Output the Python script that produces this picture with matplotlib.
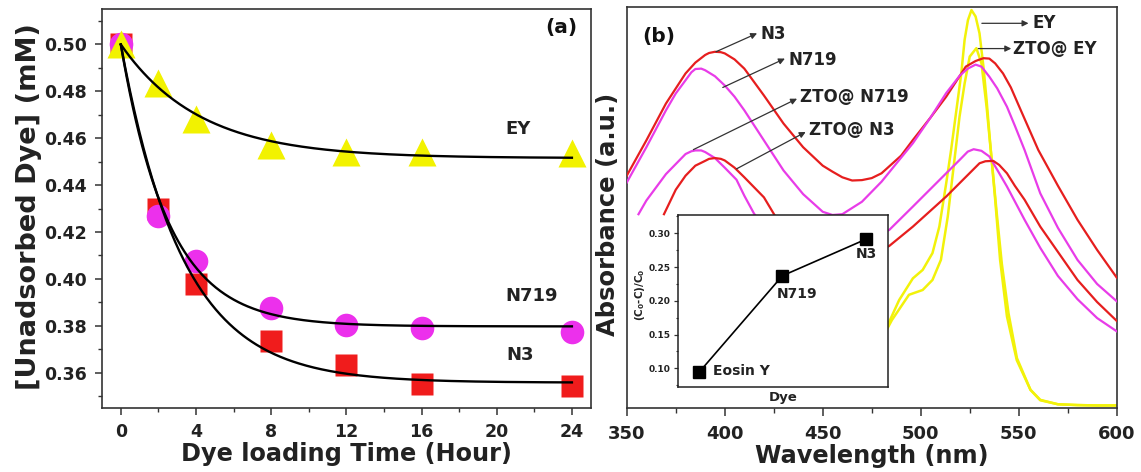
import matplotlib
matplotlib.use('Agg')
import matplotlib.pyplot as plt
import numpy as np
from matplotlib.ticker import MultipleLocator, FormatStrFormatter

plt.rcParams['font.family'] = ['DejaVu Sans']
plt.rcParams['font.weight'] = 'bold'
plt.rcParams['mathtext.default'] = 'bf'

# ---------------- data: panel (a) ----------------
time_h = [0, 2, 4, 8, 12, 16, 24]
ey_conc = [0.500, 0.4834, 0.468, 0.4571, 0.4542, 0.4542, 0.4535]
n719_conc = [0.500, 0.4267, 0.4076, 0.3876, 0.3805, 0.3792, 0.3774]
n3_conc = [0.500, 0.4296, 0.3977, 0.3735, 0.3633, 0.3550, 0.3543]
# exponential fit parameters (start, plateau, time constant in hours)
fit_start = 0.500
fit_plateau = {'EY': 0.4515, 'N719': 0.3797, 'N3': 0.3557}
fit_tau = {'EY': 4.2, 'N719': 2.55, 'N3': 3.3}

# ---------------- data: panel (b) ----------------
wl_n3 = [350, 360, 370, 380, 385, 390, 392, 395, 398, 400, 405, 410, 420, 430, 440, 450, 455, 460, 465,
         470, 475, 480, 490, 496, 505, 513, 523, 528, 532, 535, 538, 542, 546, 551, 560, 570, 580,
         590, 600]
abs_n3 = [0.580, 0.668, 0.760, 0.835, 0.862, 0.881, 0.886, 0.889, 0.888, 0.885, 0.870, 0.847, 0.780,
          0.710, 0.651, 0.605, 0.590, 0.576, 0.568, 0.569, 0.574, 0.586, 0.630, 0.669, 0.725, 0.777,
          0.852, 0.866, 0.873, 0.872, 0.860, 0.835, 0.800, 0.744, 0.644, 0.555, 0.470, 0.395, 0.326]

wl_n719 = [350, 360, 370, 375, 380, 383, 385, 388, 390, 395, 400, 405, 410, 420, 430, 440, 450, 455,
           460, 470, 480, 490, 496, 505, 513, 520, 524, 528, 531, 535, 539, 544, 548, 553, 561, 570,
           580, 590, 600]
abs_n719 = [0.563, 0.651, 0.743, 0.785, 0.818, 0.838, 0.846, 0.847, 0.843, 0.828, 0.805, 0.777, 0.743,
            0.668, 0.593, 0.534, 0.490, 0.482, 0.484, 0.515, 0.565, 0.625, 0.661, 0.725, 0.786, 0.830,
            0.847, 0.857, 0.852, 0.827, 0.798, 0.752, 0.705, 0.644, 0.536, 0.450, 0.370, 0.310, 0.267]

wl_zto_n719 = [356, 360, 370, 380, 383, 385, 388, 390, 395, 400, 406, 410, 415, 420, 430, 440, 455, 470,
               478, 484, 496, 513, 520, 524, 527, 531, 535, 539, 544, 553, 561, 570, 580, 590, 600]
abs_zto_n719 = [0.484, 0.518, 0.584, 0.634, 0.641, 0.643, 0.643, 0.639, 0.624, 0.600, 0.570, 0.530,
                0.485, 0.455, 0.405, 0.375, 0.355, 0.395, 0.430, 0.445, 0.503, 0.586, 0.620, 0.640,
                0.646, 0.642, 0.628, 0.595, 0.553, 0.470, 0.400, 0.330, 0.272, 0.225, 0.192]

wl_zto_n3 = [369, 375, 380, 385, 390, 392, 395, 398, 400, 405, 410, 420, 426, 435, 445, 455, 465, 472,
             478, 484, 496, 513, 530, 533, 537, 540, 544, 548, 553, 561, 570, 580, 590, 600]
abs_zto_n3 = [0.484, 0.545, 0.580, 0.605, 0.617, 0.622, 0.624, 0.622, 0.618, 0.600, 0.576, 0.526,
              0.477, 0.440, 0.400, 0.372, 0.365, 0.375, 0.390, 0.405, 0.453, 0.528, 0.611, 0.616,
              0.617, 0.607, 0.586, 0.555, 0.520, 0.453, 0.390, 0.320, 0.265, 0.218]

wl_ey = [470, 475, 482, 489, 496, 501, 506, 509.5, 513, 515.5, 518, 520.7, 522.4, 524.1, 525.9, 528,
         530, 532, 533.6, 535.3, 538, 540.5, 544, 549, 556, 561, 570, 580, 590, 600]
abs_ey = [0.120, 0.150, 0.195, 0.270, 0.324, 0.345, 0.387, 0.453, 0.561, 0.644, 0.736, 0.835, 0.919,
          0.968, 0.993, 0.977, 0.935, 0.852, 0.769, 0.669, 0.520, 0.370, 0.229, 0.120, 0.046, 0.021,
          0.010, 0.008, 0.007, 0.007]

wl_zto_ey = [470, 475, 482, 485.3, 494, 501, 506, 510.3, 513.8, 516.4, 519.8, 522.4, 525, 528.4, 531,
             533.6, 536.2, 538.8, 541.4, 544.8, 549.1, 556, 561, 570, 580, 590, 600]
abs_zto_ey = [0.115, 0.140, 0.190, 0.220, 0.283, 0.295, 0.320, 0.370, 0.478, 0.586, 0.727, 0.810,
              0.877, 0.898, 0.860, 0.752, 0.620, 0.486, 0.360, 0.237, 0.125, 0.046, 0.020, 0.010,
              0.008, 0.007, 0.007]

# inset data
inset_dyes = ['Eosin Y', 'N719', 'N3']
inset_frac = [0.094, 0.237, 0.291]

# ---------------- styling ----------------
RED = '#e61e1e'
MAG = '#e83ce8'
YEL = '#f2f20a'
SPINE = '#333333'

fig = plt.figure(figsize=(11.41, 4.72), dpi=100)

# ================= panel (a) =================
ax1 = fig.add_axes([0.0894, 0.1362, 0.4283, 0.8441])
ax1.plot(time_h, n3_conc, 's', color='#f01c1c', ms=16.5, mec='none', zorder=2)
ax1.plot(time_h, n719_conc, 'o', color='#ec30ec', ms=17, mec='none', zorder=2)
ax1.plot(time_h, ey_conc, '^', color='#f2f200', ms=20, mec='none', zorder=2)
t_fit = np.linspace(0, 24, 300)
for key in ['EY', 'N719', 'N3']:
    yinf = fit_plateau[key]
    ax1.plot(t_fit, yinf + (fit_start - yinf) * np.exp(-t_fit / fit_tau[key]),
             color='black', lw=1.7, zorder=3)

ax1.set_xlim(-1, 25)
ax1.set_ylim(0.345, 0.515)
ax1.xaxis.set_major_locator(MultipleLocator(4))
ax1.xaxis.set_minor_locator(MultipleLocator(2))
ax1.yaxis.set_major_locator(MultipleLocator(0.02))
ax1.yaxis.set_minor_locator(MultipleLocator(0.01))
ax1.yaxis.set_major_formatter(FormatStrFormatter('%.2f'))
ax1.tick_params(axis='both', which='major', direction='out', length=5, width=1.1,
                labelsize=12.5, colors=SPINE, labelcolor='#222222')
ax1.tick_params(axis='both', which='minor', direction='out', length=3, width=1.0, colors=SPINE)
ax1.tick_params(axis='x', which='major', pad=6)
ax1.tick_params(axis='y', which='major', pad=6)
for s in ax1.spines.values():
    s.set_color(SPINE)
    s.set_linewidth(1.2)
ax1.set_xlabel('Dye loading Time (Hour)', fontsize=17.3, fontweight='bold', labelpad=1, color='#222222')
ax1.set_ylabel('[Unadsorbed Dye] (mM)', fontsize=19.5, fontweight='bold', color='#222222')
ax1.yaxis.set_label_coords(-0.123, 0.505)

ax1.text(21.14, 0.4640, 'EY', fontsize=13, fontweight='bold', ha='center', va='center', color='#222222')
ax1.text(21.84, 0.3925, 'N719', fontsize=13, fontweight='bold', ha='center', va='center', color='#222222')
ax1.text(21.25, 0.3673, 'N3', fontsize=13, fontweight='bold', ha='center', va='center', color='#222222')
ax1.text(23.43, 0.5074, '(a)', fontsize=14.5, fontweight='bold', ha='center', va='center', color='#111111')

# ================= panel (b) =================
ax2 = fig.add_axes([0.5493, 0.1350, 0.4294, 0.8496])
ax2.plot(wl_ey, abs_ey, color=YEL, lw=1.8, zorder=2)
ax2.plot(wl_zto_ey, abs_zto_ey, color=YEL, lw=1.8, zorder=2)
ax2.plot(wl_n3, abs_n3, color=RED, lw=1.6, zorder=3)
ax2.plot(wl_n719, abs_n719, color=MAG, lw=1.6, zorder=3)
ax2.plot(wl_zto_n719, abs_zto_n719, color=MAG, lw=1.6, zorder=3)
ax2.plot(wl_zto_n3, abs_zto_n3, color=RED, lw=1.6, zorder=3)

ax2.set_xlim(350, 600)
ax2.set_ylim(0, 1)
ax2.set_yticks([])
ax2.xaxis.set_major_locator(MultipleLocator(50))
ax2.xaxis.set_minor_locator(MultipleLocator(25))
ax2.tick_params(axis='x', which='major', direction='out', length=6, width=1.1,
                labelsize=13, colors=SPINE, labelcolor='#222222', pad=6)
ax2.tick_params(axis='x', which='minor', direction='out', length=3.5, width=1.0, colors=SPINE)
for s in ax2.spines.values():
    s.set_color(SPINE)
    s.set_linewidth(1.2)
ax2.set_xlabel('Wavelength (nm)', fontsize=17.3, fontweight='bold', labelpad=1, color='#222222')
ax2.set_ylabel('Absorbance (a.u.)', fontsize=17.5, fontweight='bold', color='#222222')
ax2.yaxis.set_label_coords(-0.014, 0.4845)

ax2.text(366.4, 0.928, '(b)', fontsize=14.5, fontweight='bold', ha='center', va='center', color='#111111')

arrow_kw = dict(arrowstyle='-|>', color='#333333', lw=0.9, mutation_scale=9, shrinkA=0, shrinkB=0)
annots = [
    ('N3', (395.5, 0.889), (416.5, 0.935), (418.5, 0.934)),
    ('N719', (399.0, 0.800), (430.7, 0.872), (432.3, 0.869)),
    ('ZTO@ N719', (384.0, 0.645), (436.9, 0.772), (438.4, 0.776)),
    ('ZTO@ N3', (406.0, 0.597), (441.3, 0.689), (443.0, 0.693)),
    ('EY', (531.2, 0.960), (555.0, 0.960), (556.8, 0.961)),
    ('ZTO@ EY', (529.4, 0.897), (546.2, 0.897), (547.1, 0.897)),
]
for label, start, end, tpos in annots:
    ax2.annotate('', xy=end, xytext=start, arrowprops=arrow_kw, zorder=5)
    ax2.text(tpos[0], tpos[1], label, fontsize=12, fontweight='bold', ha='left', va='center',
             color='#222222', zorder=5)

# ================= inset =================
axi = fig.add_axes([0.5938, 0.1811, 0.1842, 0.3633])
axi.set_zorder(4)
axi.patch.set_facecolor('white')
xi = np.arange(1, len(inset_dyes) + 1)
axi.plot(xi, inset_frac, '-s', color='black', lw=1.2, ms=8.5)
axi.set_xlim(0.742, 3.264)
axi.set_ylim(0.073, 0.327)
axi.set_xticks([])
axi.yaxis.set_major_locator(MultipleLocator(0.05))
axi.yaxis.set_minor_locator(MultipleLocator(0.025))
axi.yaxis.set_major_formatter(FormatStrFormatter('%.2f'))
axi.tick_params(axis='y', which='major', direction='out', length=3, width=0.9, labelsize=6.5, pad=2,
                colors='#333333', labelcolor='#222222')
axi.tick_params(axis='y', which='minor', direction='out', length=1.8, width=0.8, colors='#333333')
for s in axi.spines.values():
    s.set_color('#222222')
    s.set_linewidth(1.1)
axi.set_ylabel(r'(C$_0$-C)/C$_0$', fontsize=7.5, fontweight='bold', color='#222222')
axi.yaxis.set_label_coords(-0.145, 0.536)
axi.set_xlabel('Dye', fontsize=9.5, fontweight='bold', color='#222222')
axi.xaxis.set_label_coords(0.502, -0.026)
inset_text_pos = [(1.168, 0.0953, 'left'), (2.18, 0.210, 'center'), (3.01, 0.2686, 'center')]
for name, (tx, ty, ha) in zip(inset_dyes, inset_text_pos):
    axi.text(tx, ty, name, fontsize=10, fontweight='bold', ha=ha, va='center', color='#222222')

fig.savefig('out.png', dpi=100)
